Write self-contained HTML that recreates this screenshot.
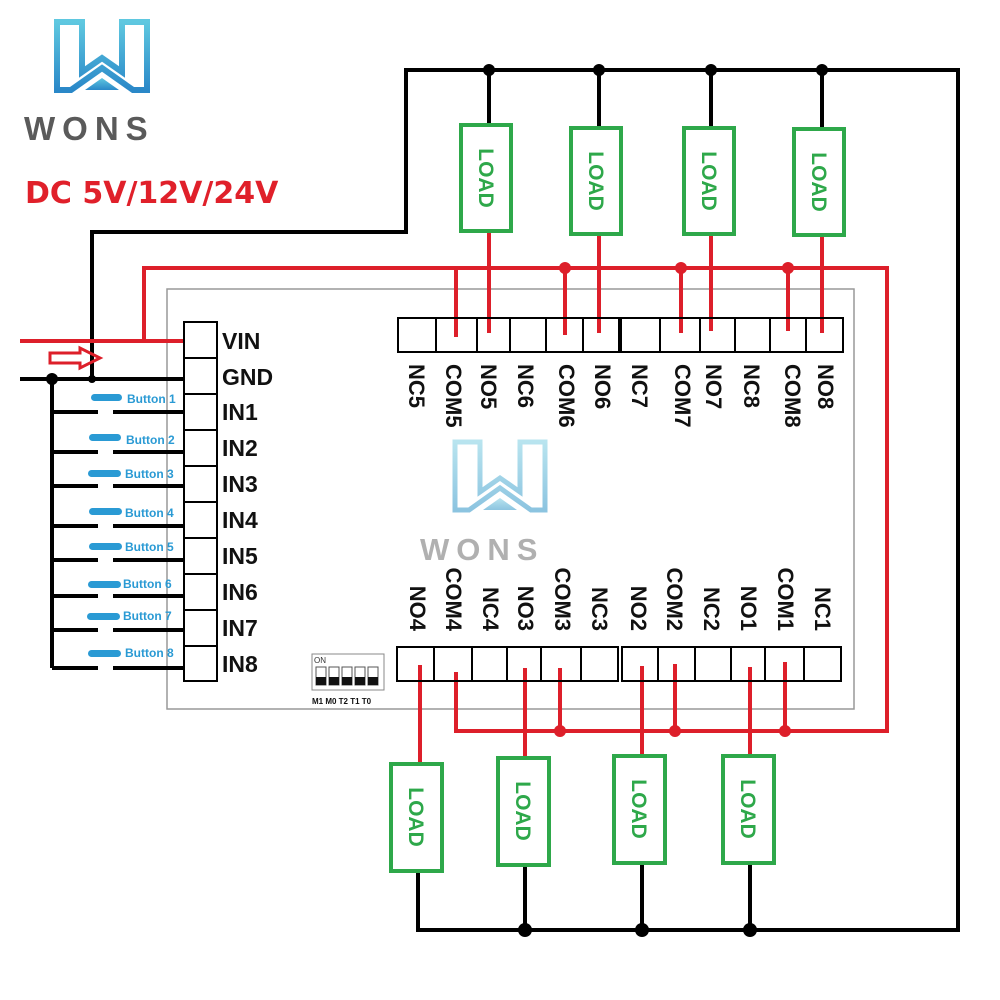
<!DOCTYPE html>
<html><head><meta charset="utf-8"><style>
html,body{margin:0;padding:0;background:#fff}
svg{display:block}
text{font-family:"Liberation Sans",sans-serif}
</style></head><body>
<svg width="1000" height="1000" viewBox="0 0 1000 1000" xmlns="http://www.w3.org/2000/svg">
<defs>
<linearGradient id="wg" x1="0" y1="0" x2="0" y2="1"><stop offset="0" stop-color="#5fc8e0"/><stop offset="1" stop-color="#2a88c8"/></linearGradient>
<linearGradient id="wg2" x1="0" y1="0" x2="0" y2="1"><stop offset="0" stop-color="#b8e4ef"/><stop offset="1" stop-color="#8cc4e0"/></linearGradient>
</defs>
<rect width="1000" height="1000" fill="#fff"/>

<!-- logo -->
<g transform="translate(55,20)" fill="none" stroke="url(#wg)" stroke-width="6" stroke-linejoin="miter">
<path d="M2,2 H27 V52 L47,38 L67,52 V2 H92 V70 H78 L47,48 L16,70 H2 Z"/>
<path d="M30,70 L47,58 L64,70 Z" fill="url(#wg)" stroke="none"/>
</g>
<text x="24" y="140" font-size="33" font-weight="bold" fill="#5a5a5a" letter-spacing="7">WONS</text>
<text x="25" y="203" font-size="30" font-weight="bold" fill="#e0202a" style="font-family:'DejaVu Sans','Liberation Sans',sans-serif">DC 5V/12V/24V</text>

<!-- watermark -->
<g transform="translate(453,440)" fill="none" stroke="url(#wg2)" stroke-width="5">
<path d="M2,2 H27 V52 L47,38 L67,52 V2 H92 V70 H78 L47,48 L16,70 H2 Z"/>
<path d="M30,70 L47,58 L64,70 Z" fill="url(#wg2)" stroke="none"/>
</g>
<text x="420" y="560" font-size="31" font-weight="bold" fill="#b0b0b0" letter-spacing="7">WONS</text>

<!-- board -->
<rect x="167" y="289" width="687" height="420" fill="none" stroke="#999" stroke-width="1.5"/>

<!-- black wires -->
<g stroke="#000" stroke-width="4" fill="none">
<polyline points="92,380 92,232 406,232 406,70 958,70 958,930 418,930 418,868"/>
<line x1="489" y1="70" x2="489" y2="124"/>
<line x1="599" y1="70" x2="599" y2="127"/>
<line x1="711" y1="70" x2="711" y2="127"/>
<line x1="822" y1="70" x2="822" y2="128"/>
<line x1="525" y1="930" x2="525" y2="866"/>
<line x1="642" y1="930" x2="642" y2="864"/>
<line x1="750" y1="930" x2="750" y2="864"/>
<line x1="20" y1="379" x2="200" y2="379"/>
<line x1="52" y1="379" x2="52" y2="668"/>
</g>
<g fill="#000">
<circle cx="489" cy="70" r="6"/><circle cx="599" cy="70" r="6"/><circle cx="711" cy="70" r="6"/><circle cx="822" cy="70" r="6"/>
<circle cx="525" cy="930" r="7"/><circle cx="642" cy="930" r="7"/><circle cx="750" cy="930" r="7"/>
<circle cx="52" cy="379" r="6"/><circle cx="92" cy="379" r="4"/>
</g>
<!-- input lines -->
<g stroke="#000" stroke-width="4">
<line x1="52" y1="412" x2="98" y2="412"/><line x1="113" y1="412" x2="200" y2="412"/>
<line x1="52" y1="452" x2="98" y2="452"/><line x1="113" y1="452" x2="200" y2="452"/>
<line x1="52" y1="486" x2="98" y2="486"/><line x1="113" y1="486" x2="200" y2="486"/>
<line x1="52" y1="526" x2="98" y2="526"/><line x1="113" y1="526" x2="200" y2="526"/>
<line x1="52" y1="560" x2="98" y2="560"/><line x1="113" y1="560" x2="200" y2="560"/>
<line x1="52" y1="596" x2="98" y2="596"/><line x1="113" y1="596" x2="200" y2="596"/>
<line x1="52" y1="630" x2="98" y2="630"/><line x1="113" y1="630" x2="200" y2="630"/>
<line x1="52" y1="668" x2="98" y2="668"/><line x1="113" y1="668" x2="200" y2="668"/>
</g>
<g fill="#2a9ad4">
<rect x="91" y="394" width="31" height="7" rx="3.5"/>
<rect x="89" y="434" width="32" height="7" rx="3.5"/>
<rect x="88" y="470" width="33" height="7" rx="3.5"/>
<rect x="89" y="508" width="33" height="7" rx="3.5"/>
<rect x="89" y="543" width="33" height="7" rx="3.5"/>
<rect x="88" y="581" width="33" height="7" rx="3.5"/>
<rect x="87" y="613" width="33" height="7" rx="3.5"/>
<rect x="88" y="650" width="33" height="7" rx="3.5"/>
</g>
<g fill="#2a9ad4" font-size="12" font-weight="bold">
<text x="127" y="403">Button 1</text>
<text x="126" y="444">Button 2</text>
<text x="125" y="478">Button 3</text>
<text x="125" y="517">Button 4</text>
<text x="125" y="551">Button 5</text>
<text x="123" y="588">Button 6</text>
<text x="123" y="620">Button 7</text>
<text x="125" y="657">Button 8</text>
</g>

<!-- red wires -->
<g stroke="#dd1f2a" stroke-width="4" fill="none">
<line x1="20" y1="341" x2="200" y2="341"/>
<polyline points="144,341 144,268 887,268 887,731 456,731 456,672"/>
<line x1="456" y1="268" x2="456" y2="337"/>
<line x1="489" y1="232" x2="489" y2="333"/>
<line x1="565" y1="268" x2="565" y2="335"/>
<line x1="599" y1="235" x2="599" y2="333"/>
<line x1="681" y1="268" x2="681" y2="333"/>
<line x1="711" y1="235" x2="711" y2="331"/>
<line x1="788" y1="268" x2="788" y2="331"/>
<line x1="822" y1="235" x2="822" y2="333"/>
<line x1="420" y1="665" x2="420" y2="763"/>
<line x1="525" y1="668" x2="525" y2="757"/>
<line x1="560" y1="668" x2="560" y2="731"/>
<line x1="642" y1="666" x2="642" y2="755"/>
<line x1="675" y1="664" x2="675" y2="731"/>
<line x1="750" y1="667" x2="750" y2="755"/>
<line x1="785" y1="662" x2="785" y2="731"/>
</g>
<g fill="#dd1f2a">
<circle cx="565" cy="268" r="6"/><circle cx="681" cy="268" r="6"/><circle cx="788" cy="268" r="6"/>
<circle cx="560" cy="731" r="6"/><circle cx="675" cy="731" r="6"/><circle cx="785" cy="731" r="6"/>
</g>
<path d="M50,353 H80 V348 L100,358 L80,368 V363 H50 Z" fill="none" stroke="#dd1f2a" stroke-width="3"/>

<!-- left terminal -->
<g fill="#fff" stroke="#000" stroke-width="2">
<rect x="184" y="322" width="33" height="36"/><rect x="184" y="358" width="33" height="36"/>
<rect x="184" y="394" width="33" height="36"/><rect x="184" y="430" width="33" height="36"/>
<rect x="184" y="466" width="33" height="36"/><rect x="184" y="502" width="33" height="36"/>
<rect x="184" y="538" width="33" height="36"/><rect x="184" y="574" width="33" height="36"/>
<rect x="184" y="610" width="33" height="36"/><rect x="184" y="646" width="33" height="35"/>
</g>
<g font-size="23" font-weight="bold" fill="#111">
<text x="222" y="349">VIN</text><text x="222" y="385">GND</text>
<text x="222" y="420">IN1</text><text x="222" y="456">IN2</text>
<text x="222" y="492">IN3</text><text x="222" y="528">IN4</text>
<text x="222" y="564">IN5</text><text x="222" y="600">IN6</text>
<text x="222" y="636">IN7</text><text x="222" y="672">IN8</text>
</g>

<!-- top terminal -->
<g fill="none" stroke="#000" stroke-width="2">
<rect x="398" y="318" width="221" height="34"/>
<line x1="436" y1="318" x2="436" y2="352"/><line x1="477" y1="318" x2="477" y2="352"/>
<line x1="510" y1="318" x2="510" y2="352"/><line x1="546" y1="318" x2="546" y2="352"/>
<line x1="583" y1="318" x2="583" y2="352"/>
<rect x="621" y="318" width="222" height="34"/>
<line x1="660" y1="318" x2="660" y2="352"/><line x1="700" y1="318" x2="700" y2="352"/>
<line x1="735" y1="318" x2="735" y2="352"/><line x1="770" y1="318" x2="770" y2="352"/>
<line x1="806" y1="318" x2="806" y2="352"/>
</g>
<g font-size="22" font-weight="bold" fill="#111">
<text transform="translate(409,364) rotate(90)">NC5</text>
<text transform="translate(446,364) rotate(90)">COM5</text>
<text transform="translate(481,364) rotate(90)">NO5</text>
<text transform="translate(518,364) rotate(90)">NC6</text>
<text transform="translate(559,364) rotate(90)">COM6</text>
<text transform="translate(595,364) rotate(90)">NO6</text>
<text transform="translate(632,364) rotate(90)">NC7</text>
<text transform="translate(675,364) rotate(90)">COM7</text>
<text transform="translate(706,364) rotate(90)">NO7</text>
<text transform="translate(744,364) rotate(90)">NC8</text>
<text transform="translate(785,364) rotate(90)">COM8</text>
<text transform="translate(818,364) rotate(90)">NO8</text>
</g>

<!-- bottom terminal -->
<g fill="none" stroke="#000" stroke-width="2">
<rect x="397" y="647" width="221" height="34"/>
<line x1="434" y1="647" x2="434" y2="681"/><line x1="472" y1="647" x2="472" y2="681"/>
<line x1="507" y1="647" x2="507" y2="681"/><line x1="541" y1="647" x2="541" y2="681"/>
<line x1="581" y1="647" x2="581" y2="681"/>
<rect x="622" y="647" width="219" height="34"/>
<line x1="658" y1="647" x2="658" y2="681"/><line x1="695" y1="647" x2="695" y2="681"/>
<line x1="731" y1="647" x2="731" y2="681"/><line x1="765" y1="647" x2="765" y2="681"/>
<line x1="804" y1="647" x2="804" y2="681"/>
</g>
<g font-size="22" font-weight="bold" fill="#111" text-anchor="end">
<text transform="translate(410,631) rotate(90)">NO4</text>
<text transform="translate(446,631) rotate(90)">COM4</text>
<text transform="translate(483,631) rotate(90)">NC4</text>
<text transform="translate(518,631) rotate(90)">NO3</text>
<text transform="translate(555,631) rotate(90)">COM3</text>
<text transform="translate(592,631) rotate(90)">NC3</text>
<text transform="translate(631,631) rotate(90)">NO2</text>
<text transform="translate(667,631) rotate(90)">COM2</text>
<text transform="translate(704,631) rotate(90)">NC2</text>
<text transform="translate(741,631) rotate(90)">NO1</text>
<text transform="translate(778,631) rotate(90)">COM1</text>
<text transform="translate(815,631) rotate(90)">NC1</text>
</g>

<!-- DIP switch -->
<rect x="312" y="654" width="72" height="36" fill="none" stroke="#888" stroke-width="1"/>
<text x="314" y="663" font-size="8" fill="#333">ON</text>
<g fill="#fff" stroke="#555" stroke-width="1">
<rect x="316" y="667" width="10" height="18"/><rect x="329" y="667" width="10" height="18"/>
<rect x="342" y="667" width="10" height="18"/><rect x="355" y="667" width="10" height="18"/>
<rect x="368" y="667" width="10" height="18"/>
</g>
<g fill="#111">
<rect x="316" y="677" width="10" height="8"/><rect x="329" y="677" width="10" height="8"/>
<rect x="342" y="677" width="10" height="8"/><rect x="355" y="677" width="10" height="8"/>
<rect x="368" y="677" width="10" height="8"/>
</g>
<text x="312" y="704" font-size="8" font-weight="bold" fill="#111">M1 M0 T2 T1 T0</text>

<!-- loads -->
<g fill="#fff" stroke="#2ea84a" stroke-width="4">
<rect x="461" y="125" width="50" height="106"/>
<rect x="571" y="128" width="50" height="106"/>
<rect x="684" y="128" width="50" height="106"/>
<rect x="794" y="129" width="50" height="106"/>
<rect x="391" y="764" width="51" height="107"/>
<rect x="498" y="758" width="51" height="107"/>
<rect x="614" y="756" width="51" height="107"/>
<rect x="723" y="756" width="51" height="107"/>
</g>
<g font-size="21" font-weight="bold" fill="#2ea84a" text-anchor="middle">
<text transform="translate(479,178) rotate(90)">LOAD</text>
<text transform="translate(589,181) rotate(90)">LOAD</text>
<text transform="translate(702,181) rotate(90)">LOAD</text>
<text transform="translate(812,182) rotate(90)">LOAD</text>
<text transform="translate(409,817) rotate(90)">LOAD</text>
<text transform="translate(516,811) rotate(90)">LOAD</text>
<text transform="translate(632,809) rotate(90)">LOAD</text>
<text transform="translate(741,809) rotate(90)">LOAD</text>
</g>
</svg>
</body></html>
